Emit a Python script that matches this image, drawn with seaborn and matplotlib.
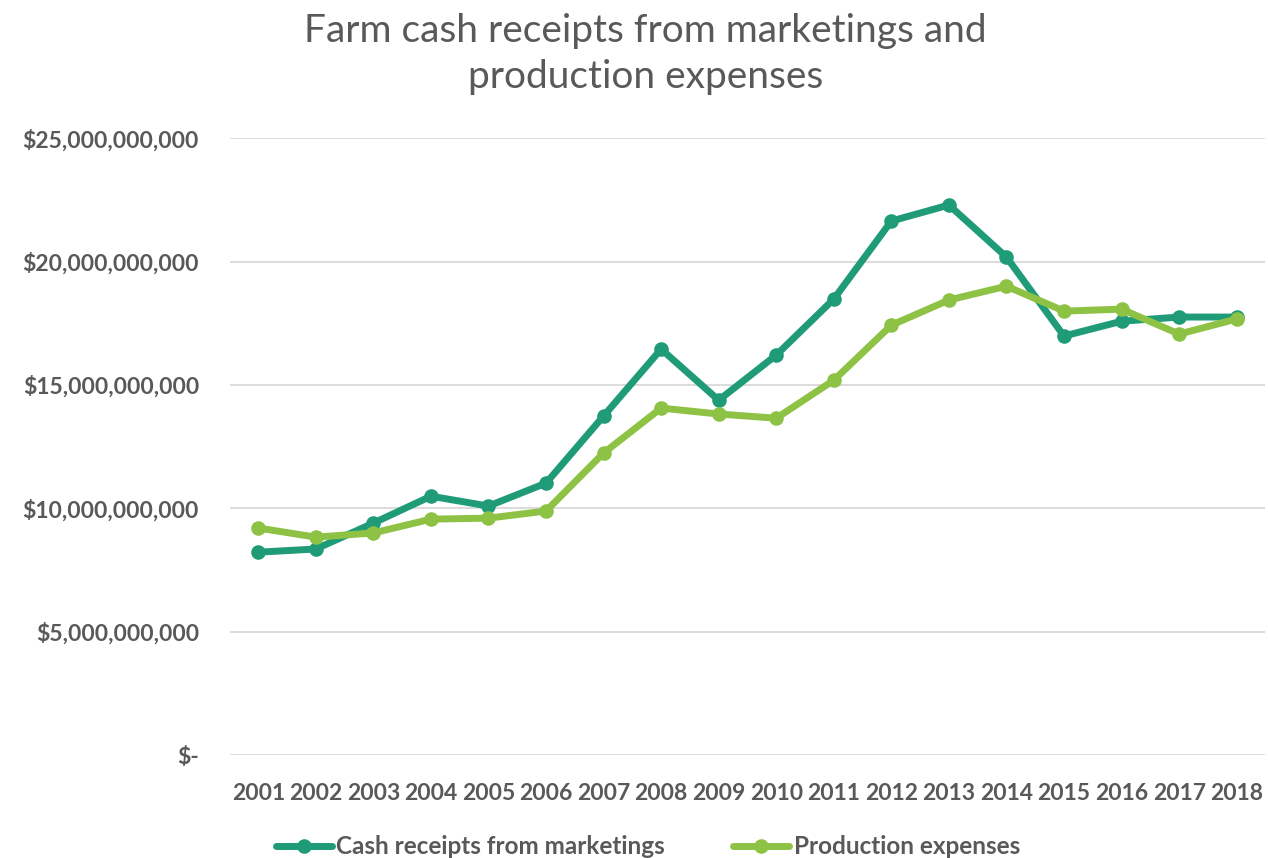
import matplotlib.pyplot as plt
import matplotlib.ticker as mticker
import seaborn as sns
import pandas as pd

years = list(range(2001, 2019))
cash_receipts = [8.22, 8.35, 9.40, 10.49, 10.09, 11.02, 13.74, 16.45, 14.38, 16.21,
                 18.48, 21.64, 22.29, 20.18, 16.98, 17.58, 17.75, 17.75]
production_expenses = [9.20, 8.83, 9.00, 9.56, 9.60, 9.89, 12.24, 14.06, 13.82, 13.65,
                       15.19, 17.42, 18.44, 19.00, 17.99, 18.07, 17.06, 17.67]
series_names = ['Cash receipts from marketings', 'Production expenses']
colores = ['#1F9B77', '#8DC245']

df = pd.DataFrame({
    'Year': years * 2,
    'Value': [v * 1e9 for v in cash_receipts + production_expenses],
    'Serie': [series_names[0]] * len(years) + [series_names[1]] * len(years),
})

sns.set_style('white')
plt.rcParams['font.family'] = ['Lato', 'DejaVu Sans']
gris = '#595959'

fig = plt.figure(figsize=(12.68, 8.58), dpi=100)
ax = fig.add_axes([0.181, 0.12, 0.817, 0.719])

sns.lineplot(data=df, x='Year', y='Value', hue='Serie', palette=colores,
             marker='o', markersize=10.5, markeredgewidth=0, linewidth=5,
             ax=ax, legend=True)

ax.set_xlim(2000.5, 2018.5)
ax.set_ylim(0, 25e9)
ax.set_xticks(years)
ax.set_xticklabels([str(y) for y in years])
ax.yaxis.set_major_locator(mticker.MultipleLocator(5e9))
ax.yaxis.set_major_formatter(mticker.FuncFormatter(
    lambda v, p: '$-' if v == 0 else f'${v:,.0f}'))

ax.grid(axis='y', color='#D9D9D9', linewidth=1.3)
ax.grid(axis='x', visible=False)
sns.despine(ax=ax, left=True, bottom=True)
ax.tick_params(axis='x', length=0, labelsize=16.5, labelcolor=gris, pad=20)
ax.tick_params(axis='y', length=0, labelsize=16.5, labelcolor=gris, pad=22)
for lbl in ax.get_xticklabels() + ax.get_yticklabels():
    lbl.set_fontweight('bold')

ax.set_xlabel('')
ax.set_ylabel('')

leg = ax.legend(loc='center', bbox_to_anchor=(0.511, 0.013),
                bbox_transform=fig.transFigure, ncol=2,
                frameon=False, fontsize=17.5, handlelength=2.3, columnspacing=2.8,
                handletextpad=0.2, borderpad=0)
for t in leg.get_texts():
    t.set_color(gris)
    t.set_fontweight('bold')

fig.text(0.509, 0.985, 'Farm cash receipts from marketings and\nproduction expenses',
         ha='center', va='top', fontsize=28, color=gris, linespacing=1.35)

plt.savefig('out.png', dpi=100)
plt.close()
